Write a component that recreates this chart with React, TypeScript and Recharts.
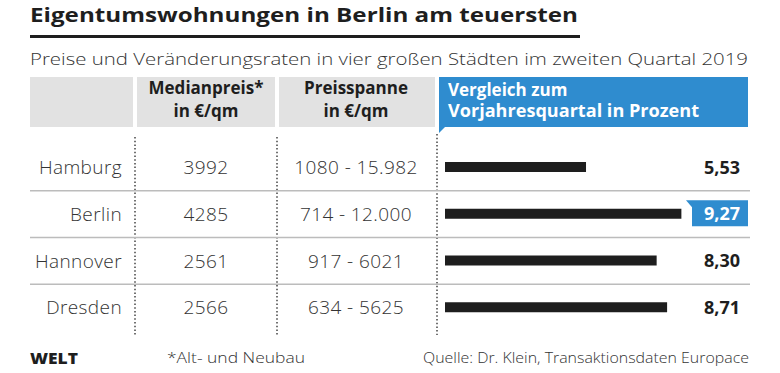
import React from 'react';
import { BarChart, Bar, XAxis, YAxis, LabelList } from 'recharts';

// table rows
const cities = ['Hamburg', 'Berlin', 'Hannover', 'Dresden'];
const medianPrices = ['3992', '4285', '2561', '2566'];
const priceRanges = ['1080 - 15.982', '714 - 12.000', '917 - 6021', '634 - 5625'];
// Veränderung zum Vorjahresquartal in %
const changeRates = [5.53, 9.27, 8.3, 8.71];
const highlightCity = 'Berlin';

const data = cities.map((city, i) => ({
  city,
  median: medianPrices[i],
  range: priceRanges[i],
  change: changeRates[i],
}));

const FONT = '"Open Sans", Lato, sans-serif';
const BLUE = '#2f8ccf';
const INK = '#1e1e1e';
const TEXT = '#333333';
const HEADER_GREY = '#e2e2e2';
const ROW_H = 46.85;

function renderRowTick(props: any) {
  const { y, payload } = props;
  const idx = cities.indexOf(payload.value);
  const row = data[idx];
  if (!row) return <g />;
  const base = y + 6.8;
  const cell = { fontFamily: FONT, fontWeight: 300, fontSize: 19, fill: TEXT, letterSpacing: 0.4 };
  return (
    <g>
      {idx > 0 && (
        <line x1={30} x2={750} y1={y - ROW_H / 2} y2={y - ROW_H / 2} stroke="#bcbcbc" strokeWidth={1.5} />
      )}
      <text x={122} y={base} textAnchor="end" {...cell}>
        {row.city}
      </text>
      <text x={206} y={base} textAnchor="middle" {...cell}>
        {row.median}
      </text>
      <text x={356} y={base} textAnchor="middle" {...cell}>
        {row.range}
      </text>
    </g>
  );
}

function ChangeLabel(props: any) {
  const { y, height, value, index } = props;
  const cy = y + height / 2;
  const label = Number(value).toFixed(2).replace('.', ',');
  const hi = data[index] && data[index].city === highlightCity;
  const top = cy - 13.5;
  return (
    <g>
      {hi && (
        <>
          <rect x={692} y={top} width={56} height={26} fill={BLUE} />
          <polygon points={`686,${top} 692,${top} 692,${top + 7}`} fill={BLUE} />
        </>
      )}
      <text
        x={740}
        y={cy + 6.5}
        textAnchor="end"
        fontFamily={FONT}
        fontWeight={700}
        fontSize={18}
        fill={hi ? '#ffffff' : INK}
      >
        {label}
      </text>
    </g>
  );
}

function Decor() {
  const dotted = [135, 277, 437];
  return (
    <svg width={780} height={373} style={{ position: 'absolute', left: 0, top: 0 }}>
      <text x={30} y={22} fontFamily={FONT} fontWeight={700} fontSize={20} fill={INK} textLength={548} lengthAdjust="spacingAndGlyphs">
        Eigentumswohnungen in Berlin am teuersten
      </text>
      <rect x={30} y={35} width={550} height={3} fill={INK} />
      <text x={30} y={65} fontFamily={FONT} fontWeight={300} fontSize={17} fill={TEXT} textLength={718} lengthAdjust="spacingAndGlyphs">
        Preise und Veränderungsraten in vier großen Städten im zweiten Quartal 2019
      </text>

      {/* header */}
      <rect x={30} y={77} width={103} height={50} fill={HEADER_GREY} />
      <rect x={137} y={77} width={138} height={50} fill={HEADER_GREY} />
      <rect x={279} y={77} width={156} height={50} fill={HEADER_GREY} />
      <rect x={439} y={77} width={309} height={50} fill={BLUE} />
      <polygon points="439,126 439,133 446,126" fill={BLUE} />
      <g fontFamily={FONT} fontWeight={700} fontSize={17} fill={INK} textAnchor="middle">
        <text x={206} y={94}>Medianpreis*</text>
        <text x={206} y={117}>in €/qm</text>
        <text x={356} y={94}>Preisspanne</text>
        <text x={356} y={117}>in €/qm</text>
      </g>
      <g fontFamily={FONT} fontWeight={700} fontSize={17} fill="#ffffff">
        <text x={448} y={96}>Vergleich zum</text>
        <text x={448} y={117} textLength={251} lengthAdjust="spacingAndGlyphs">Vorjahresquartal in Prozent</text>
      </g>

      {dotted.map((x) => (
        <line key={x} x1={x} x2={x} y1={x === 437 ? 134 : 137} y2={335} stroke="#444" strokeWidth={1.5} strokeDasharray="1.5 2.2" />
      ))}

      {/* footer */}
      <text x={30} y={364} fontFamily={FONT} fontWeight={800} fontSize={15} fill={INK} textLength={48} lengthAdjust="spacingAndGlyphs">
        WELT
      </text>
      <text x={167} y={363} fontFamily={FONT} fontWeight={300} fontSize={14} fill={TEXT} textLength={138} lengthAdjust="spacingAndGlyphs">
        *Alt- und Neubau
      </text>
      <text x={423} y={363} fontFamily={FONT} fontWeight={300} fontSize={14} fill={TEXT} textLength={326} lengthAdjust="spacingAndGlyphs">
        Quelle: Dr. Klein, Transaktionsdaten Europace
      </text>
    </svg>
  );
}

export default function App() {
  return (
    <div style={{ position: 'relative', width: 780, height: 373, background: '#ffffff' }}>
      <style>{'body{margin:0}'}</style>
      <Decor />
      <div style={{ position: 'absolute', left: 0, top: 0 }}>
        <BarChart
          width={780}
          height={373}
          data={data}
          layout="vertical"
          margin={{ top: 144, right: 80, bottom: 42, left: 444 }}
        >
          <XAxis type="number" domain={[0, 10]} hide />
          <YAxis
            type="category"
            dataKey="city"
            width={1}
            axisLine={false}
            tickLine={false}
            tick={renderRowTick}
            interval={0}
          />
          <Bar dataKey="change" fill={INK} barSize={10} isAnimationActive={false}>
            <LabelList dataKey="change" content={<ChangeLabel />} />
          </Bar>
        </BarChart>
      </div>
    </div>
  );
}
